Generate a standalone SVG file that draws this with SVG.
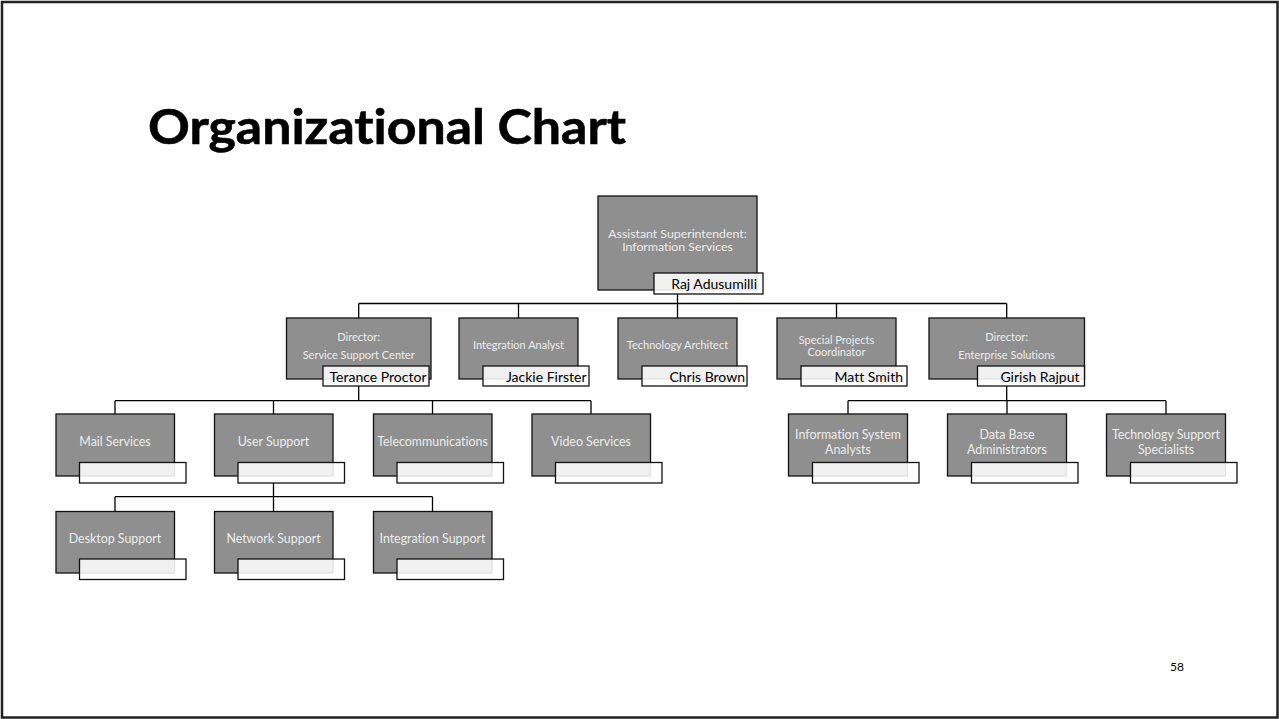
<svg xmlns="http://www.w3.org/2000/svg" width="1279" height="719" viewBox="0 0 1279 719">
<style>
text{font-variant-ligatures:none}
.box{fill:#8f8f8f;stroke:#111;stroke-width:1.3}
.lbl{fill:#fff;fill-opacity:0.88;stroke:#111;stroke-width:1.3}
.t{font-family:Lato,"Open Sans",sans-serif;fill:#ededed;text-anchor:middle;dominant-baseline:central}
.s11{font-size:11px}
.s12{font-size:12.3px}
.s125{font-size:12.4px}
.nm{font-family:Lato,"Open Sans",sans-serif;font-size:14px;fill:#000;text-anchor:end;dominant-baseline:central}
.con{fill:none;stroke:#000;stroke-width:1.3}
</style>
<rect x="2" y="2" width="1275.5" height="715.5" fill="#fff" stroke="#222" stroke-width="2.5"/>
<text x="148" y="144" font-family="Lato,'Open Sans',sans-serif" font-weight="700" font-size="48" textLength="478" lengthAdjust="spacingAndGlyphs" fill="#000" stroke="#000" stroke-width="0.6">Organizational Chart</text>
<text x="1177" y="666" font-family="Lato,'Open Sans',sans-serif" font-size="12" fill="#000" text-anchor="middle" dominant-baseline="central">58</text>

<g id="connectors">
<path class="con" d="M677.5 294V303.5M358.7 303.5H1006.7M358.7 303.5V318M518.5 303.5V318M677.5 303.5V318M836.5 303.5V318M1006.7 303.5V318"/>
<path class="con" d="M358.7 386V400.7M115 400.7H591M115 400.7V414M273.5 400.7V414M432.5 400.7V414M591 400.7V414"/>
<path class="con" d="M1006.7 386V400.7M848 400.7H1166M848 400.7V414M1007 400.7V414M1166 400.7V414"/>
<path class="con" d="M273.5 483V496.7M115 496.7H432.5M115 496.7V511.5M273.5 496.7V511.5M432.5 496.7V511.5"/>
</g>

<g id="n-top">
<rect class="box" x="598" y="196" width="159" height="94"/>
<text class="t s12" x="677.5" y="233">Assistant Superintendent:</text>
<text class="t s12" x="677.5" y="246.5">Information Services</text>
<rect class="lbl" x="654" y="273" width="109" height="21"/>
<text class="nm" x="757" y="283.5">Raj Adusumilli</text>
</g>

<g id="n-ssc">
<rect class="box" x="286.5" y="318" width="144.5" height="61"/>
<text class="t s11" x="358.7" y="336">Director:</text>
<text class="t s11" x="358.7" y="354.3">Service Support Center</text>
<rect class="lbl" x="323" y="366" width="106" height="20"/>
<text class="nm" x="426.5" y="376">Terance Proctor</text>
</g>

<g id="n-ia">
<rect class="box" x="459" y="318" width="119" height="61"/>
<text class="t s11" x="518.5" y="344.3">Integration Analyst</text>
<rect class="lbl" x="483" y="366" width="106" height="20"/>
<text class="nm" x="586.5" y="376">Jackie Firster</text>
</g>

<g id="n-ta">
<rect class="box" x="618" y="318" width="119" height="61"/>
<text class="t s11" x="677.5" y="344.3">Technology Architect</text>
<rect class="lbl" x="642" y="366" width="105" height="20"/>
<text class="nm" x="745" y="376">Chris Brown</text>
</g>

<g id="n-spc">
<rect class="box" x="777" y="318" width="119" height="61"/>
<text class="t s11" x="836.5" y="339">Special Projects</text>
<text class="t s11" x="836.5" y="351.7">Coordinator</text>
<rect class="lbl" x="801" y="366" width="106" height="20"/>
<text class="nm" x="903" y="376">Matt Smith</text>
</g>

<g id="n-es">
<rect class="box" x="929" y="318" width="155.5" height="61"/>
<text class="t s11" x="1006.7" y="336.7">Director:</text>
<text class="t s11" x="1006.7" y="354.3">Enterprise Solutions</text>
<rect class="lbl" x="977.5" y="366" width="107" height="20"/>
<text class="nm" x="1079.5" y="376">Girish Rajput</text>
</g>

<g id="n-mail">
<rect class="box" x="56" y="414" width="118.5" height="62"/>
<text class="t s125" x="115" y="441">Mail Services</text>
<rect class="lbl" x="79.5" y="462.5" width="106.5" height="20.5"/>
</g>

<g id="n-user">
<rect class="box" x="214.5" y="414" width="118.5" height="62"/>
<text class="t s125" x="273.5" y="441">User Support</text>
<rect class="lbl" x="238" y="462.5" width="106.5" height="20.5"/>
</g>

<g id="n-tele">
<rect class="box" x="373.5" y="414" width="118.5" height="62"/>
<text class="t s125" x="432.5" y="441">Telecommunications</text>
<rect class="lbl" x="397" y="462.5" width="106.5" height="20.5"/>
</g>

<g id="n-video">
<rect class="box" x="532" y="414" width="118.5" height="62"/>
<text class="t s125" x="591" y="441">Video Services</text>
<rect class="lbl" x="555.5" y="462.5" width="106.5" height="20.5"/>
</g>

<g id="n-isa">
<rect class="box" x="788.5" y="414" width="119" height="62"/>
<text class="t s125" x="848" y="434">Information System</text>
<text class="t s125" x="848" y="449">Analysts</text>
<rect class="lbl" x="812.5" y="462.5" width="106.5" height="20.5"/>
</g>

<g id="n-dba">
<rect class="box" x="947.5" y="414" width="119" height="62"/>
<text class="t s125" x="1007" y="434">Data Base</text>
<text class="t s125" x="1007" y="449">Administrators</text>
<rect class="lbl" x="971.5" y="462.5" width="106.5" height="20.5"/>
</g>

<g id="n-tss">
<rect class="box" x="1106.5" y="414" width="119" height="62"/>
<text class="t s125" x="1166" y="434">Technology Support</text>
<text class="t s125" x="1166" y="449">Specialists</text>
<rect class="lbl" x="1130.5" y="462.5" width="106.5" height="20.5"/>
</g>

<g id="n-desk">
<rect class="box" x="56" y="511.5" width="118.5" height="61.5"/>
<text class="t s125" x="115" y="538.5">Desktop Support</text>
<rect class="lbl" x="79.5" y="559" width="106.5" height="20.5"/>
</g>

<g id="n-net">
<rect class="box" x="214.5" y="511.5" width="118.5" height="61.5"/>
<text class="t s125" x="273.5" y="538.5">Network Support</text>
<rect class="lbl" x="238" y="559" width="106.5" height="20.5"/>
</g>

<g id="n-intsup">
<rect class="box" x="373.5" y="511.5" width="118.5" height="61.5"/>
<text class="t s125" x="432.5" y="538.5">Integration Support</text>
<rect class="lbl" x="397" y="559" width="106.5" height="20.5"/>
</g>
</svg>
